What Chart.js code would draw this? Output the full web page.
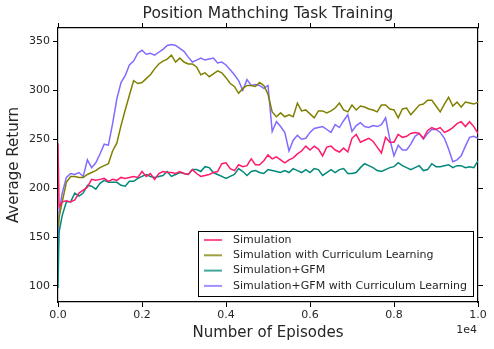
<!DOCTYPE html>
<html>
<head>
<meta charset="utf-8">
<script src="https://cdn.jsdelivr.net/npm/chart.js@4.4.1/dist/chart.umd.min.js"></script>
<style>
  html, body { margin: 0; padding: 0; background: #fff; }
  #wrap { width: 494px; height: 349px; position: relative; }
</style>
</head>
<body>
<div id="wrap"><canvas id="myChart" width="494" height="349"></canvas></div>
<script>
// episodes (x values)
const episodes = [0, 25, 100, 200, 300, 400, 500, 600, 700, 800, 900,
  1000, 1100, 1200, 1300, 1400, 1500, 1600, 1700, 1800, 1900,
  2000, 2100, 2200, 2300, 2400, 2500, 2600, 2700, 2800, 2900,
  3000, 3100, 3200, 3300, 3400, 3500, 3600, 3700, 3800, 3900,
  4000, 4100, 4200, 4300, 4400, 4500, 4600, 4700, 4800, 4900,
  5000, 5100, 5200, 5300, 5400, 5500, 5600, 5700, 5800, 5900,
  6000, 6100, 6200, 6300, 6400, 6500, 6600, 6700, 6800, 6900,
  7000, 7100, 7200, 7300, 7400, 7500, 7600, 7700, 7800, 7900,
  8000, 8100, 8200, 8300, 8400, 8500, 8600, 8700, 8800, 8900,
  9000, 9100, 9200, 9300, 9400, 9500, 9600, 9700, 9800, 9900, 10000];

const simulation = [246, 181, 186, 187, 186, 188, 195, 198, 201, 209, 208,
  209, 210, 207, 209, 208, 211, 210, 211, 212, 211,
  217, 212, 215, 209, 215, 217, 216, 216, 215, 217,
  215, 214, 219, 215, 212, 213, 214, 216, 217, 225,
  226, 220, 218, 224, 222, 223, 230, 224, 224, 228,
  234, 230, 232, 229, 226, 229, 231, 235, 238, 243,
  239, 243, 240, 233, 242, 243, 239, 237, 241, 237,
  251, 255, 247, 249, 251, 248, 242, 236, 252, 247,
  247, 255, 252, 253, 256, 257, 256, 251, 259, 262,
  260, 262, 257, 259, 262, 266, 268, 263, 268, 263, 256];

const simulationCL = [160, 170, 186, 206, 212, 212, 211, 211, 214, 216, 218,
  221, 223, 225, 238, 246, 264, 280, 295, 310, 307,
  308, 312, 316, 322, 327, 330, 332, 336, 329, 333,
  329, 327, 327, 324, 316, 318, 314, 317, 320, 318,
  313, 307, 304, 297, 302, 305, 305, 304, 308, 305,
  296, 278, 273, 277, 273, 275, 273, 287, 279, 280,
  276, 272, 279, 279, 277, 279, 282, 287, 280, 278,
  285, 280, 284, 283, 281, 280, 278, 285, 285, 281,
  280, 272, 281, 282, 275, 280, 285, 286, 290, 290,
  284, 278, 286, 293, 284, 288, 283, 288, 287, 286, 288];

const simulationGFM = [98, 155, 172, 186, 186, 195, 192, 195, 203, 202, 199,
  205, 208, 206, 206, 206, 203, 202, 207, 207, 210,
  212, 214, 212, 211, 212, 213, 217, 212, 214, 216,
  215, 214, 219, 219, 217, 222, 221, 216, 214, 212,
  210, 212, 214, 220, 217, 213, 217, 218, 216, 215,
  219, 218, 217, 216, 218, 216, 220, 218, 216, 219,
  216, 220, 219, 213, 216, 219, 216, 219, 220, 215,
  215, 216, 221, 225, 223, 221, 218, 217, 219, 221,
  222, 226, 223, 221, 219, 221, 223, 218, 219, 225,
  222, 222, 223, 224, 221, 223, 223, 221, 222, 221, 228];

const simulationGFMCL = [130, 175, 195, 211, 215, 214, 216, 212, 229, 221, 226,
  235, 245, 244, 266, 291, 308, 315, 326, 330, 338,
  341, 337, 338, 336, 339, 342, 346, 347, 346, 343,
  340, 334, 329, 331, 333, 331, 332, 333, 328, 329,
  326, 321, 316, 310, 300, 311, 305, 306, 305, 302,
  305, 258, 268, 263, 257, 238, 249, 254, 250, 251,
  257, 261, 262, 263, 260, 257, 265, 262, 269, 275,
  258, 264, 267, 263, 262, 264, 263, 265, 272, 250,
  233, 244, 239, 239, 245, 253, 256, 250, 256, 260,
  260, 257, 251, 240, 227, 229, 233, 243, 252, 253, 251];

const seriesNames = ['Simulation', 'Simulation with Curriculum Learning',
  'Simulation+GFM', 'Simulation+GFM with Curriculum Learning'];
const seriesColors = ['#ff1a6c', '#808000', '#00897b', '#7f6cff'];
const yTicks = [100, 150, 200, 250, 300, 350];
const xTicks = [0, 2000, 4000, 6000, 8000, 10000];

const allSeries = [simulation, simulationCL, simulationGFM, simulationGFMCL];

const textColor = '#262626';
const fontFamily = "'DejaVu Sans', sans-serif";

function makeDataset(values, idx) {
    return {
        label: seriesNames[idx],
        data: values.map((v, i) => ({ x: episodes[i], y: v })),
        borderColor: seriesColors[idx],
        borderWidth: 1.5,
        pointRadius: 0,
        tension: 0,
        fill: false
    };
}

// legend, title, axis titles and the 1e4 offset text
const extrasPlugin = {
    id: 'extras',
    afterDraw(chart) {
        const ctx = chart.ctx;
        const area = chart.chartArea;
        ctx.save();
        ctx.fillStyle = textColor;

        ctx.font = '15.5px ' + fontFamily;
        ctx.textAlign = 'center';
        ctx.textBaseline = 'middle';
        ctx.fillText('Position Mathching Task Training', (area.left + area.right) / 2, 14);

        ctx.font = '15px ' + fontFamily;
        ctx.fillText('Number of Episodes', (area.left + area.right) / 2, 333);

        ctx.save();
        ctx.translate(14, (area.top + area.bottom) / 2);
        ctx.rotate(-Math.PI / 2);
        ctx.fillText('Average Return', 0, 0);
        ctx.restore();

        ctx.font = '11px ' + fontFamily;
        ctx.textAlign = 'right';
        ctx.fillText('1e4', area.right - 1, 330);

        // legend box
        const lx = 198.5, ly = 231.5, lw = 275, lh = 65;
        ctx.fillStyle = '#ffffff';
        ctx.fillRect(lx, ly, lw, lh);
        ctx.strokeStyle = '#000000';
        ctx.lineWidth = 1;
        ctx.strokeRect(lx, ly, lw, lh);

        ctx.textAlign = 'left';
        ctx.font = '11px ' + fontFamily;
        seriesNames.forEach((name, i) => {
            const y = 240 + i * 15.3;
            ctx.globalAlpha = 0.75;
            ctx.strokeStyle = seriesColors[i];
            ctx.lineWidth = 2;
            ctx.beginPath();
            ctx.moveTo(204, y);
            ctx.lineTo(222, y);
            ctx.stroke();
            ctx.globalAlpha = 1;
            ctx.fillStyle = textColor;
            ctx.fillText(name, 233, y);
        });
        ctx.restore();
    }
};

const ctx = document.getElementById('myChart').getContext('2d');

const myChart = new Chart(ctx, {
    type: 'line',
    data: {
        datasets: allSeries.map(makeDataset)
    },
    options: {
        responsive: false,
        animation: false,
        layout: { padding: 0 },
        plugins: {
            legend: { display: false },
            title: { display: false },
            tooltip: { enabled: false }
        },
        scales: {
            x: {
                type: 'linear',
                position: 'bottom',
                min: 0,
                max: 10000,
                afterBuildTicks: axis => { axis.ticks = xTicks.map(v => ({ value: v })); },
                afterFit: axis => { axis.height = 47; },
                ticks: {
                    color: textColor,
                    font: { family: fontFamily, size: 11 },
                    padding: 2,
                    maxRotation: 0,
                    callback: v => (v / 10000).toFixed(1)
                },
                grid: { drawOnChartArea: false, drawTicks: true, tickLength: 5, color: '#000' },
                border: { display: true, color: '#000', width: 1.2 }
            },
            x2: {
                type: 'linear',
                position: 'top',
                min: 0,
                max: 10000,
                afterBuildTicks: axis => { axis.ticks = xTicks.map(v => ({ value: v })); },
                afterFit: axis => { axis.height = 28; },
                ticks: { display: false },
                grid: { drawOnChartArea: false, drawTicks: true, tickLength: 5, color: '#000' },
                border: { display: true, color: '#000', width: 1.2 }
            },
            y: {
                type: 'linear',
                position: 'left',
                min: 83.6,
                max: 363.8,
                afterBuildTicks: axis => { axis.ticks = yTicks.map(v => ({ value: v })); },
                afterFit: axis => { axis.width = 58; },
                ticks: {
                    color: textColor,
                    font: { family: fontFamily, size: 11 },
                    padding: 3
                },
                grid: { drawOnChartArea: false, drawTicks: true, tickLength: 5, color: '#000' },
                border: { display: true, color: '#000', width: 1.2 }
            },
            y2: {
                type: 'linear',
                position: 'right',
                min: 83.6,
                max: 363.8,
                afterBuildTicks: axis => { axis.ticks = yTicks.map(v => ({ value: v })); },
                afterFit: axis => { axis.width = 16; },
                ticks: { display: false },
                grid: { drawOnChartArea: false, drawTicks: true, tickLength: 5, color: '#000' },
                border: { display: true, color: '#000', width: 1.2 }
            }
        }
    },
    plugins: [extrasPlugin]
});
</script>
</body>
</html>
